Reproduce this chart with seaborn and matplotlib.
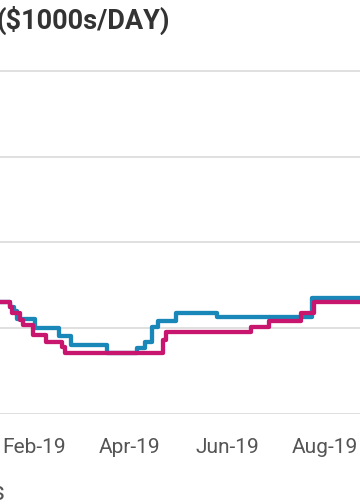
import matplotlib
matplotlib.use("Agg")
import matplotlib.pyplot as plt
import matplotlib.dates as mdates
import seaborn as sns
import pandas as pd

# ---- data ($1000s/day) ----
magenta_dates = ["2019-01-01", "2019-01-17", "2019-01-18", "2019-01-23", "2019-01-25",
                 "2019-01-31", "2019-02-08", "2019-02-18", "2019-02-20", "2019-04-22",
                 "2019-04-24", "2019-06-16", "2019-06-27", "2019-07-17", "2019-07-25",
                 "2019-08-31"]
magenta_values = [13.06, 12.48, 11.78, 10.96, 10.38,
                  9.21, 8.40, 7.81, 7.11, 8.63,
                  9.56, 10.15, 10.90, 11.78, 13.06,
                  13.06]

blue_dates = ["2019-01-01", "2019-01-17", "2019-01-19", "2019-01-21", "2019-02-01",
              "2019-02-16", "2019-02-24", "2019-03-18", "2019-04-06", "2019-04-11",
              "2019-04-15", "2019-04-19", "2019-04-30", "2019-05-26", "2019-07-24",
              "2019-08-31"]
blue_values = [13.06, 12.48, 12.01, 11.08, 10.03,
               9.10, 8.05, 7.11, 7.70, 8.40,
               10.15, 10.85, 11.82, 11.31, 13.53,
               13.53]

y_ticks = [0, 10, 20, 30, 40]
title_text = "($1000s/DAY)"

# ---- figure ----
sns.set_theme(style="white")
plt.rcParams["font.family"] = ["Roboto", "DejaVu Sans"]

W, H = 360, 504
fig = plt.figure(figsize=(W / 100, H / 100), dpi=100)
ax = fig.add_axes([0, 90 / H, 1, 354 / H])

blue_df = pd.DataFrame({"date": pd.to_datetime(blue_dates), "value": blue_values})
mag_df = pd.DataFrame({"date": pd.to_datetime(magenta_dates), "value": magenta_values})

sns.lineplot(data=blue_df, x="date", y="value", ax=ax, color="#1a87b9",
             linewidth=3.1, drawstyle="steps-post", zorder=3)
sns.lineplot(data=mag_df, x="date", y="value", ax=ax, color="#c8166e",
             linewidth=3.1, drawstyle="steps-post", zorder=4)

ax.set_xlim(pd.Timestamp("2019-01-10 12:00"), pd.Timestamp("2019-08-22 19:00"))
ax.set_ylim(0, 41.28)
ax.set_yticks(y_ticks)
ax.yaxis.grid(True, color="#e0e0e0", linewidth=1.4)
ax.xaxis.grid(False)
for s in ax.spines.values():
    s.set_visible(False)

ax.xaxis.set_major_locator(mdates.MonthLocator(bymonth=[2, 4, 6, 8]))
ax.xaxis.set_major_formatter(mdates.DateFormatter("%b-%y"))
ax.tick_params(axis="x", length=0, pad=17, labelsize=15, labelcolor="#555555")
ax.tick_params(axis="y", length=0, labelleft=False)
ax.set_xlabel("")
ax.set_ylabel("")

fig.text(-4 / W, (H - 29) / H, title_text, fontsize=19.5, fontweight="bold",
         color="#333333", ha="left", va="baseline")
fig.text(5 / W, (H - 500) / H, "s", fontsize=18, color="#555555",
         ha="right", va="baseline")

fig.savefig("out.png", dpi=100)
